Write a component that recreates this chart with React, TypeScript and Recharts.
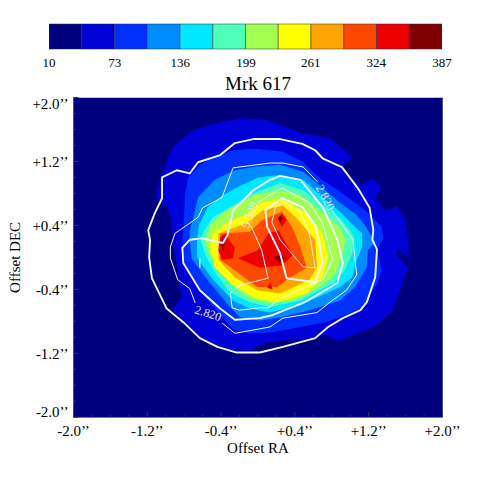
import React from "react";
import { ScatterChart, Scatter, XAxis, YAxis, BarChart, Bar, Label } from "recharts";

type Pt = [number, number];

const SERIF = "'Liberation Serif', 'Times New Roman', serif";
const bandColors = ["#00007f", "#0000d8", "#0030ff", "#008cff", "#00e8ff", "#4dffb8", "#a0ff50", "#ffff00", "#ffa500", "#ff4800", "#ee0000", "#7f0000"];
const bandWidths = [41.4, 31.4, 31.5, 31.4, 31.4, 31.4, 31.4, 31.4, 31.5, 31.4, 31.4, 31.4];
const scaleTicks = [10, 73, 136, 199, 261, 324, 387];

const allTicks = [-2, -1.8, -1.6, -1.4, -1.2, -1, -0.8, -0.6, -0.4, -0.2, 0, 0.2, 0.4, 0.6, 0.8, 1, 1.2, 1.4, 1.6, 1.8, 2];
const majorTicks = [-2, -1.2, -0.4, 0.4, 1.2, 2];

const frame: Pt[] = [[-2, -2], [-2, 2], [2, 2], [2, -2]];
const level1: Pt[] = [[-1.11,.75],[-1.06,1],[-.92,1.38],[-.74,1.57],[-.63,1.62],[-.41,1.69],[-.16,1.74],[.1,1.72],[.46,1.56],[.78,1.49],[1.02,1.26],[.91,1.13],[1.11,.9],[1.24,.98],[1.34,.88],[1.27,.75],[1.38,.58],[1.51,.64],[1.59,.47],[1.63,.22],[1.63,-.01],[1.51,.12],[1.5,.03],[1.62,-.12],[1.57,-.32],[1.46,-.66],[1.29,-.85],[.87,-1.05],[.73,-.97],[.64,-1],[.1,-1.06],[0,-1.1],[-.09,-1.17],[-.27,-1.16],[-.66,-1],[-.87,-.76],[-.92,-.64],[-.82,-.5],[-.85,-.37],[-.87,-.16],[-.93,.22],[-.95,.5],[-.98,.63]];
const level2: Pt[] = [[-.79,.78],[-.76,.99],[-.63,1.16],[-.47,1.26],[-.27,1.34],[-.03,1.36],[.27,1.32],[.49,1.19],[.67,.99],[.89,.82],[1.16,.59],[1.34,.38],[1.36,.24],[1.29,.09],[1.34,-.16],[1.3,-.31],[1.14,-.62],[.89,-.75],[.73,-.81],[.46,-.87],[.13,-.94],[-.09,-.95],[-.27,-.9],[-.41,-.72],[-.52,-.57],[-.63,-.41],[-.74,-.22],[-.81,-.03],[-.82,.15]];
const level3: Pt[] = [[-.74,.34],[-.7,.5],[-.65,.75],[-.47,.97],[-.25,1.09],[0,1.14],[.24,1.16],[.49,1.07],[.67,.9],[.89,.68],[1.07,.53],[1.16,.4],[1.27,.19],[1.19,.09],[1.18,-.12],[1.05,-.37],[.89,-.54],[.56,-.66],[.29,-.74],[.02,-.79],[-.2,-.75],[-.34,-.57],[-.55,-.28],[-.72,-.01],[-.74,.22]];
const level4: Pt[] = [[-.66,.22],[-.64,.4],[-.55,.62],[-.38,.78],[-.2,.89],[0,1],[.24,1.03],[.49,.97],[.67,.78],[.89,.57],[1,.44],[1.13,.3],[1.13,.13],[1.07,-.03],[1.02,-.25],[.89,-.37],[.46,-.6],[.13,-.69],[-.09,-.64],[-.27,-.54],[-.5,-.26],[-.66,0]];
const level5: Pt[] = [[-.62,.22],[-.6,.3],[-.49,.5],[-.27,.65],[-.09,.78],[.24,.93],[.49,.84],[.67,.68],[.89,.49],[1,.34],[1.05,.22],[1.02,.05],[.94,-.16],[.83,-.31],[.46,-.54],[.13,-.62],[-.09,-.56],[-.3,-.44],[-.47,-.18],[-.57,.03]];
const level6: Pt[] = [[-.57,.22],[-.52,.4],[-.39,.55],[-.2,.68],[-.03,.78],[.24,.84],[.46,.78],[.67,.59],[.89,.37],[.95,.22],[.91,0],[.83,-.22],[.67,-.37],[.4,-.54],[.13,-.57],[-.09,-.51],[-.28,-.35],[-.43,-.13],[-.54,.07]];
const level7: Pt[] = [[-.52,.13],[-.49,.3],[-.34,.43],[-.14,.53],[.02,.68],[.27,.74],[.53,.55],[.7,.3],[.76,0],[.7,-.25],[.53,-.45],[.21,-.56],[-.03,-.51],[-.3,-.32],[-.47,-.12]];
const level8: Pt[] = [[-.43,.3],[-.12,.43],[.05,.59],[.27,.65],[.42,.49],[.62,.22],[.64,-.12],[.56,-.28],[.24,-.45],[-.01,-.41],[-.25,-.25],[-.43,-.03]];
const level9: Pt[] = [[-.41,.3],[-.09,.32],[.05,.47],[.26,.57],[.37,.38],[.46,.13],[.53,-.13],[.35,-.25],[.21,-.37],[-.01,-.37],[-.23,-.18],[-.41,-.03]];
const level10a: Pt[] = [[-.41,.25],[-.36,.3],[-.25,.12],[-.27,-.01],[-.39,-.03],[-.43,.09]];
const level10b: Pt[] = [[-.22,-.01],[0,.09],[.11,.3],[.22,.34],[.38,.03],[.26,-.1],[.02,-.13]];
const level10c: Pt[] = [[.21,.49],[.26,.55],[.31,.47],[.26,.38]];
const level10d: Pt[] = [[.1,-.38],[.13,-.31],[.16,-.4]];
const level11a: Pt[] = [[-.38,.25],[-.36,.18],[-.38,.07],[-.4,.18]];
const level11b: Pt[] = [[.17,-.01],[.24,.04],[.29,-.01],[.24,-.06]];
const level11c: Pt[] = [[.22,.49],[.24,.52],[.27,.49],[.24,.44]];

const whiteOuter: Pt[] = [[-1.19,.34],[-1.12,.55],[-1.04,.74],[-1.04,1],[-.88,1.09],[-.74,1.05],[-.65,1.19],[-.41,1.28],[-.25,1.43],[-.05,1.48],[.24,1.48],[.48,1.42],[.62,1.34],[.7,1.24],[.91,1.13],[1.08,.87],[1.21,.62],[1.25,.34],[1.24,.22],[1.29,.1],[1.27,-.25],[1.18,-.56],[1.11,-.66],[.92,-.76],[.76,-.87],[.62,-1.01],[.27,-1.12],[.02,-1.19],[-.23,-1.19],[-.44,-1.12],[-.63,-1.01],[-.81,-.81],[-.99,-.64],[-1.15,-.26],[-1.18,0],[-1.17,.22]];
const whiteLabelledA: Pt[] = [[.8,.59],[1.03,.22],[1.07,-.22],[.96,-.41],[.78,-.56],[.64,-.69],[.27,-.76],[.13,-.87],[-.25,-.95],[-.39,-.82]];
const whiteLabelledB: Pt[] = [[-.68,-.57],[-.74,-.39],[-.87,-.28],[-.95,-.01],[-.95,.13],[-.9,.3],[-.65,.5],[-.6,.62],[-.39,.75],[-.27,1.12],[.13,1.18],[.27,1.18],[.49,1.13],[.65,.94]];
const whiteMiddle: Pt[] = [[-.82,.12],[-.74,.22],[-.61,.24],[-.38,.18],[-.33,.28],[-.27,.59],[-.05,.84],[.13,.97],[.24,1.02],[.46,.97],[.7,.63],[.8,.38],[.86,.22],[.92,-.07],[.86,-.32],[.49,-.57],[.16,-.72],[.02,-.76],[-.25,-.78],[-.41,-.64],[-.63,-.41],[-.81,-.07]];
const whiteThin: Pt[] = [[0,.69],[.26,.87],[.56,.68],[.7,.43],[.81,-.03],[.7,-.28],[.24,-.51],[.11,-.63],[.02,-.63],[-.2,-.66],[-.28,-.63],[-.3,-.45],[-.2,-.35],[.11,-.26],[.04,.09],[-.07,.38],[-.11,.44]];
const whiteInner: Pt[] = [[.08,.59],[.26,.74],[.48,.63],[.62,.4],[.67,.15],[.7,-.06],[.62,-.31],[.31,-.26],[.24,.05],[.1,.38]];
const whiteCore: Pt[] = [[.19,.63],[.29,.69],[.46,.57],[.56,.28],[.62,-.13],[.49,-.12],[.24,.22],[.15,.44]];
const whiteStub: Pt[] = [[-.63,-.01],[-.63,-.13]];

const contourLabels = [
  { x: 0.73, y: 0.75, text: "2.820", angle: 62 },
  { x: -0.54, y: -0.7, text: "2.820", angle: 18 },
  { x: -0.09, y: 0.53, text: "5.508", angle: -70 },
];

const filled: { pts: Pt[]; color: string }[] = [
  { pts: frame, color: bandColors[0] },
  { pts: level1, color: bandColors[1] },
  { pts: level2, color: bandColors[2] },
  { pts: level3, color: bandColors[3] },
  { pts: level4, color: bandColors[4] },
  { pts: level5, color: bandColors[5] },
  { pts: level6, color: bandColors[6] },
  { pts: level7, color: bandColors[7] },
  { pts: level8, color: bandColors[8] },
  { pts: level9, color: bandColors[9] },
  { pts: level10a, color: bandColors[10] },
  { pts: level10b, color: bandColors[10] },
  { pts: level10c, color: bandColors[10] },
  { pts: level10d, color: bandColors[10] },
  { pts: level11a, color: bandColors[11] },
  { pts: level11b, color: bandColors[11] },
  { pts: level11c, color: bandColors[11] },
];

const lines: { pts: Pt[]; w: number; closed: boolean }[] = [
  { pts: whiteOuter, w: 1.9, closed: true },
  { pts: whiteLabelledA, w: 1, closed: false },
  { pts: whiteLabelledB, w: 1, closed: false },
  { pts: whiteMiddle, w: 1.9, closed: true },
  { pts: whiteThin, w: 1, closed: false },
  { pts: whiteInner, w: 1.9, closed: true },
  { pts: whiteCore, w: 0.9, closed: true },
  { pts: whiteStub, w: 1.2, closed: false },
];

const toRows = (pts: Pt[]) => pts.map(([x, y]) => ({ x, y }));
const pathOf = (points: { x: number; y: number }[], closed: boolean) =>
  points.map((p, i) => `${i ? "L" : "M"}${p.x} ${p.y}`).join(" ") + (closed ? " Z" : "");
const noDot = () => <g />;

const fmt = (v: number) => `${v >= 0 ? "+" : "-"}${Math.abs(v).toFixed(1)}\u2019\u2019`;
const isMajor = (v: number) => majorTicks.includes(v);
const TICK = "#34346a";

const BottomTick = (p: any) => {
  const v = p.payload.value;
  const len = isMajor(v) ? 5 : 2.5;
  return (
    <g>
      <line x1={p.x} x2={p.x} y1={p.y} y2={p.y - len} stroke={TICK} />
      {isMajor(v) && (
        <text x={p.x} y={p.y + 19} textAnchor="middle" fontFamily={SERIF} fontSize={15} fill="#000">{fmt(v)}</text>
      )}
    </g>
  );
};
const TopTick = (p: any) => {
  const len = isMajor(p.payload.value) ? 5 : 2.5;
  return <line x1={p.x} x2={p.x} y1={p.y} y2={p.y + len} stroke={TICK} />;
};
const LeftTick = (p: any) => {
  const v = p.payload.value;
  const len = isMajor(v) ? 5 : 2.5;
  const dy = v === 2 ? 11 : v === -2 ? -0.5 : 6;
  return (
    <g>
      <line x1={p.x} x2={p.x + len} y1={p.y} y2={p.y} stroke={TICK} />
      {isMajor(v) && (
        <text x={p.x - 5} y={p.y + dy} textAnchor="end" fontFamily={SERIF} fontSize={15} fill="#000">{fmt(v)}</text>
      )}
    </g>
  );
};
const RightTick = (p: any) => {
  const len = isMajor(p.payload.value) ? 5 : 2.5;
  return <line x1={p.x} x2={p.x - len} y1={p.y} y2={p.y} stroke={TICK} />;
};

const scaleRow: Record<string, number | string> = { name: "scale" };
bandWidths.forEach((w, i) => (scaleRow[`b${i}`] = w));

export default function App() {
  return (
    <div style={{ position: "absolute", left: 0, top: 0, width: 491, height: 491, background: "#fff" }}>
      <div style={{ position: "absolute", left: 0, top: 0 }}>
        <BarChart width={491} height={80} data={[scaleRow]} layout="vertical" barCategoryGap={0} margin={{ top: 24, right: 49, bottom: 0, left: 49 }}>
          <XAxis type="number" domain={[10, 387]} ticks={scaleTicks} interval={0} height={31} axisLine={false} tickLine={false} tickMargin={3} allowDataOverflow
            tick={{ fontFamily: SERIF, fontSize: 13, fill: "#000" }} />
          <YAxis type="category" dataKey="name" hide />
          {bandColors.map((c, i) => (
            <Bar key={i} dataKey={`b${i}`} stackId="s" fill={c} stroke="#2b2b4a" strokeWidth={0.5} isAnimationActive={false} />
          ))}
        </BarChart>
      </div>
      <div style={{ position: "absolute", left: 0, top: 72, width: 516, textAlign: "center", fontFamily: SERIF, fontSize: 19, lineHeight: "24px", color: "#000" }}>Mrk 617</div>
      <div style={{ position: "absolute", left: 0, top: 0 }}>
        <ScatterChart width={491} height={491} margin={{ top: 97.5, right: 0, bottom: 0, left: 0 }}>
          {filled.map((f, i) => (
            <Scatter key={`f${i}`} data={toRows(f.pts)} isAnimationActive={false} shape={noDot}
              line={(lp: any) => <path d={pathOf(lp.points, true)} fill={f.color} stroke="none" />} />
          ))}
          {lines.map((l, i) => (
            <Scatter key={`l${i}`} data={toRows(l.pts)} isAnimationActive={false} shape={noDot}
              line={(lp: any) => <path d={pathOf(lp.points, l.closed)} fill="none" stroke="#f4f4ff" strokeWidth={l.w} strokeLinejoin="round" />} />
          ))}
          <Scatter data={contourLabels} isAnimationActive={false}
            shape={(p: any) => (
              <text x={p.cx} y={p.cy} dy={4} textAnchor="middle" fontFamily={SERIF} fontSize={12} fill="#e6e6ff"
                transform={`rotate(${p.payload.angle} ${p.cx} ${p.cy})`}>{p.payload.text}</text>
            )} />
          <XAxis type="number" dataKey="x" domain={[-2, 2]} ticks={allTicks} interval={0} height={73.7} stroke="#666" tickLine={false} tickSize={0} tickMargin={0} tick={<BottomTick />} allowDataOverflow>
            <Label value="Offset RA" position="insideBottom" offset={38} fontFamily={SERIF} fontSize={15} fill="#000" />
          </XAxis>
          <XAxis xAxisId="top" orientation="top" type="number" domain={[-2, 2]} ticks={allTicks} interval={0} height={0} stroke="#666" tickLine={false} tickSize={0} tickMargin={0} tick={<TopTick />} />
          <YAxis type="number" dataKey="y" domain={[-2, 2]} ticks={allTicks} interval={0} width={73.5} stroke="#666" tickLine={false} tickSize={0} tickMargin={0} tick={<LeftTick />} allowDataOverflow>
            <Label value="Offset DEC" angle={-90} position="insideLeft" offset={15} fontFamily={SERIF} fontSize={15} fill="#000" style={{ textAnchor: "middle" }} />
          </YAxis>
          <YAxis yAxisId="right" orientation="right" type="number" domain={[-2, 2]} ticks={allTicks} interval={0} width={48.5} stroke="#666" tickLine={false} tickSize={0} tickMargin={0} tick={<RightTick />} />
        </ScatterChart>
      </div>
    </div>
  );
}
